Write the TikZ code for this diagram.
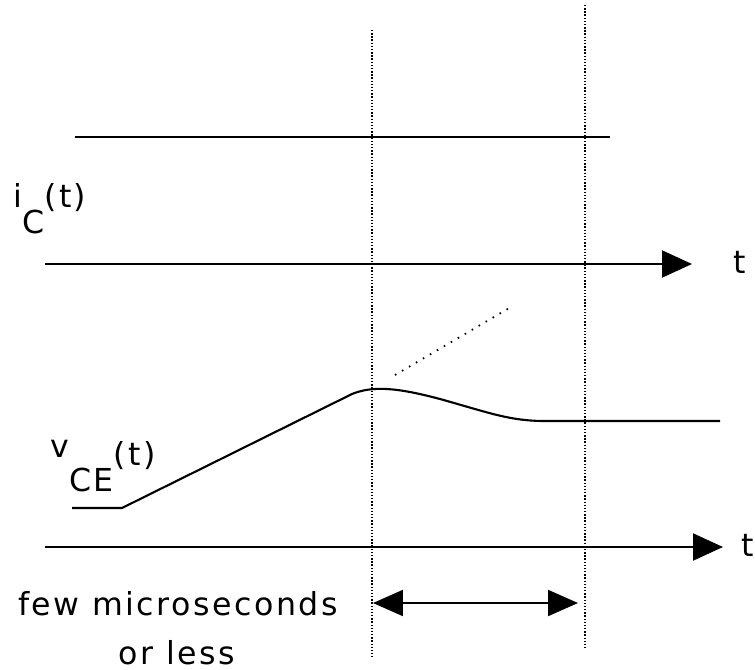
\documentclass[tikz,border=0pt]{standalone}
\usepackage{fontspec}
\setmainfont[LetterSpace=8]{DejaVu Sans}
\usetikzlibrary{arrows.meta}

\begin{document}
\begin{tikzpicture}[x=0.02cm, y=-0.02cm,
  axis/.style={line width=1.2pt, -{Triangle[length=0.6cm, width=0.54cm]}},
  guide/.style={line width=1pt, dash pattern=on 0.8pt off 1pt},
  lbl/.style={font=\fontsize{18}{22}\selectfont, inner sep=0pt}]
\useasboundingbox (0,0) rectangle (755,670);

% time axes
\coordinate (a1s) at (45,264);
\coordinate (a1e) at (692,264);
\coordinate (a2s) at (45,547);
\coordinate (a2e) at (723,547);
\draw[axis] (a1s) -- (a1e);
\draw[axis] (a2s) -- (a2e);
\node[lbl] (t1) at (740,262) {t};
\node[lbl, anchor=west] (t2) at (741,545) {t};

% collector current
\coordinate (ic1) at (75,137);
\coordinate (ic2) at (610,137);
\draw[line width=1.2pt] (ic1) -- (ic2);
\node[lbl, anchor=base west] (ilbl) at (13,207) {i\raisebox{-0.85em}{C}(t)};

% collector-emitter voltage
\draw[line width=1.2pt] (72,508) -- (122,508) -- (352,394)
  .. controls (372,386) and (395,387) .. (440,399)
  .. controls (490,413) and (510,421) .. (545,421) -- (720,421);
\node[lbl, anchor=base west] (vlbl) at (50,465) {\raisebox{0.25em}{v}\raisebox{-0.85em}{CE}(t)};
\coordinate (s1) at (395,375);
\coordinate (s2) at (511,307);
\draw[line width=1pt, dash pattern=on 0.9pt off 3.7pt] (s1) -- (s2);

% interval
\coordinate (g1t) at (372,30);
\coordinate (g1b) at (372,657);
\coordinate (g2t) at (585,5);
\coordinate (g2b) at (585,650);
\draw[guide] (g1t) -- (g1b);
\draw[guide] (g2t) -- (g2b);
\coordinate (d1) at (373,603);
\coordinate (d2) at (578,603);
\draw[line width=1.2pt, {Triangle[length=0.6cm, width=0.52cm]}-{Triangle[length=0.6cm, width=0.52cm]}] (d1) -- (d2);
\node[lbl, anchor=base] (dur1) at (178,615) {few microseconds};
\node[lbl, anchor=base] (dur2) at (177,664) {or less};
\end{tikzpicture}
\end{document}
